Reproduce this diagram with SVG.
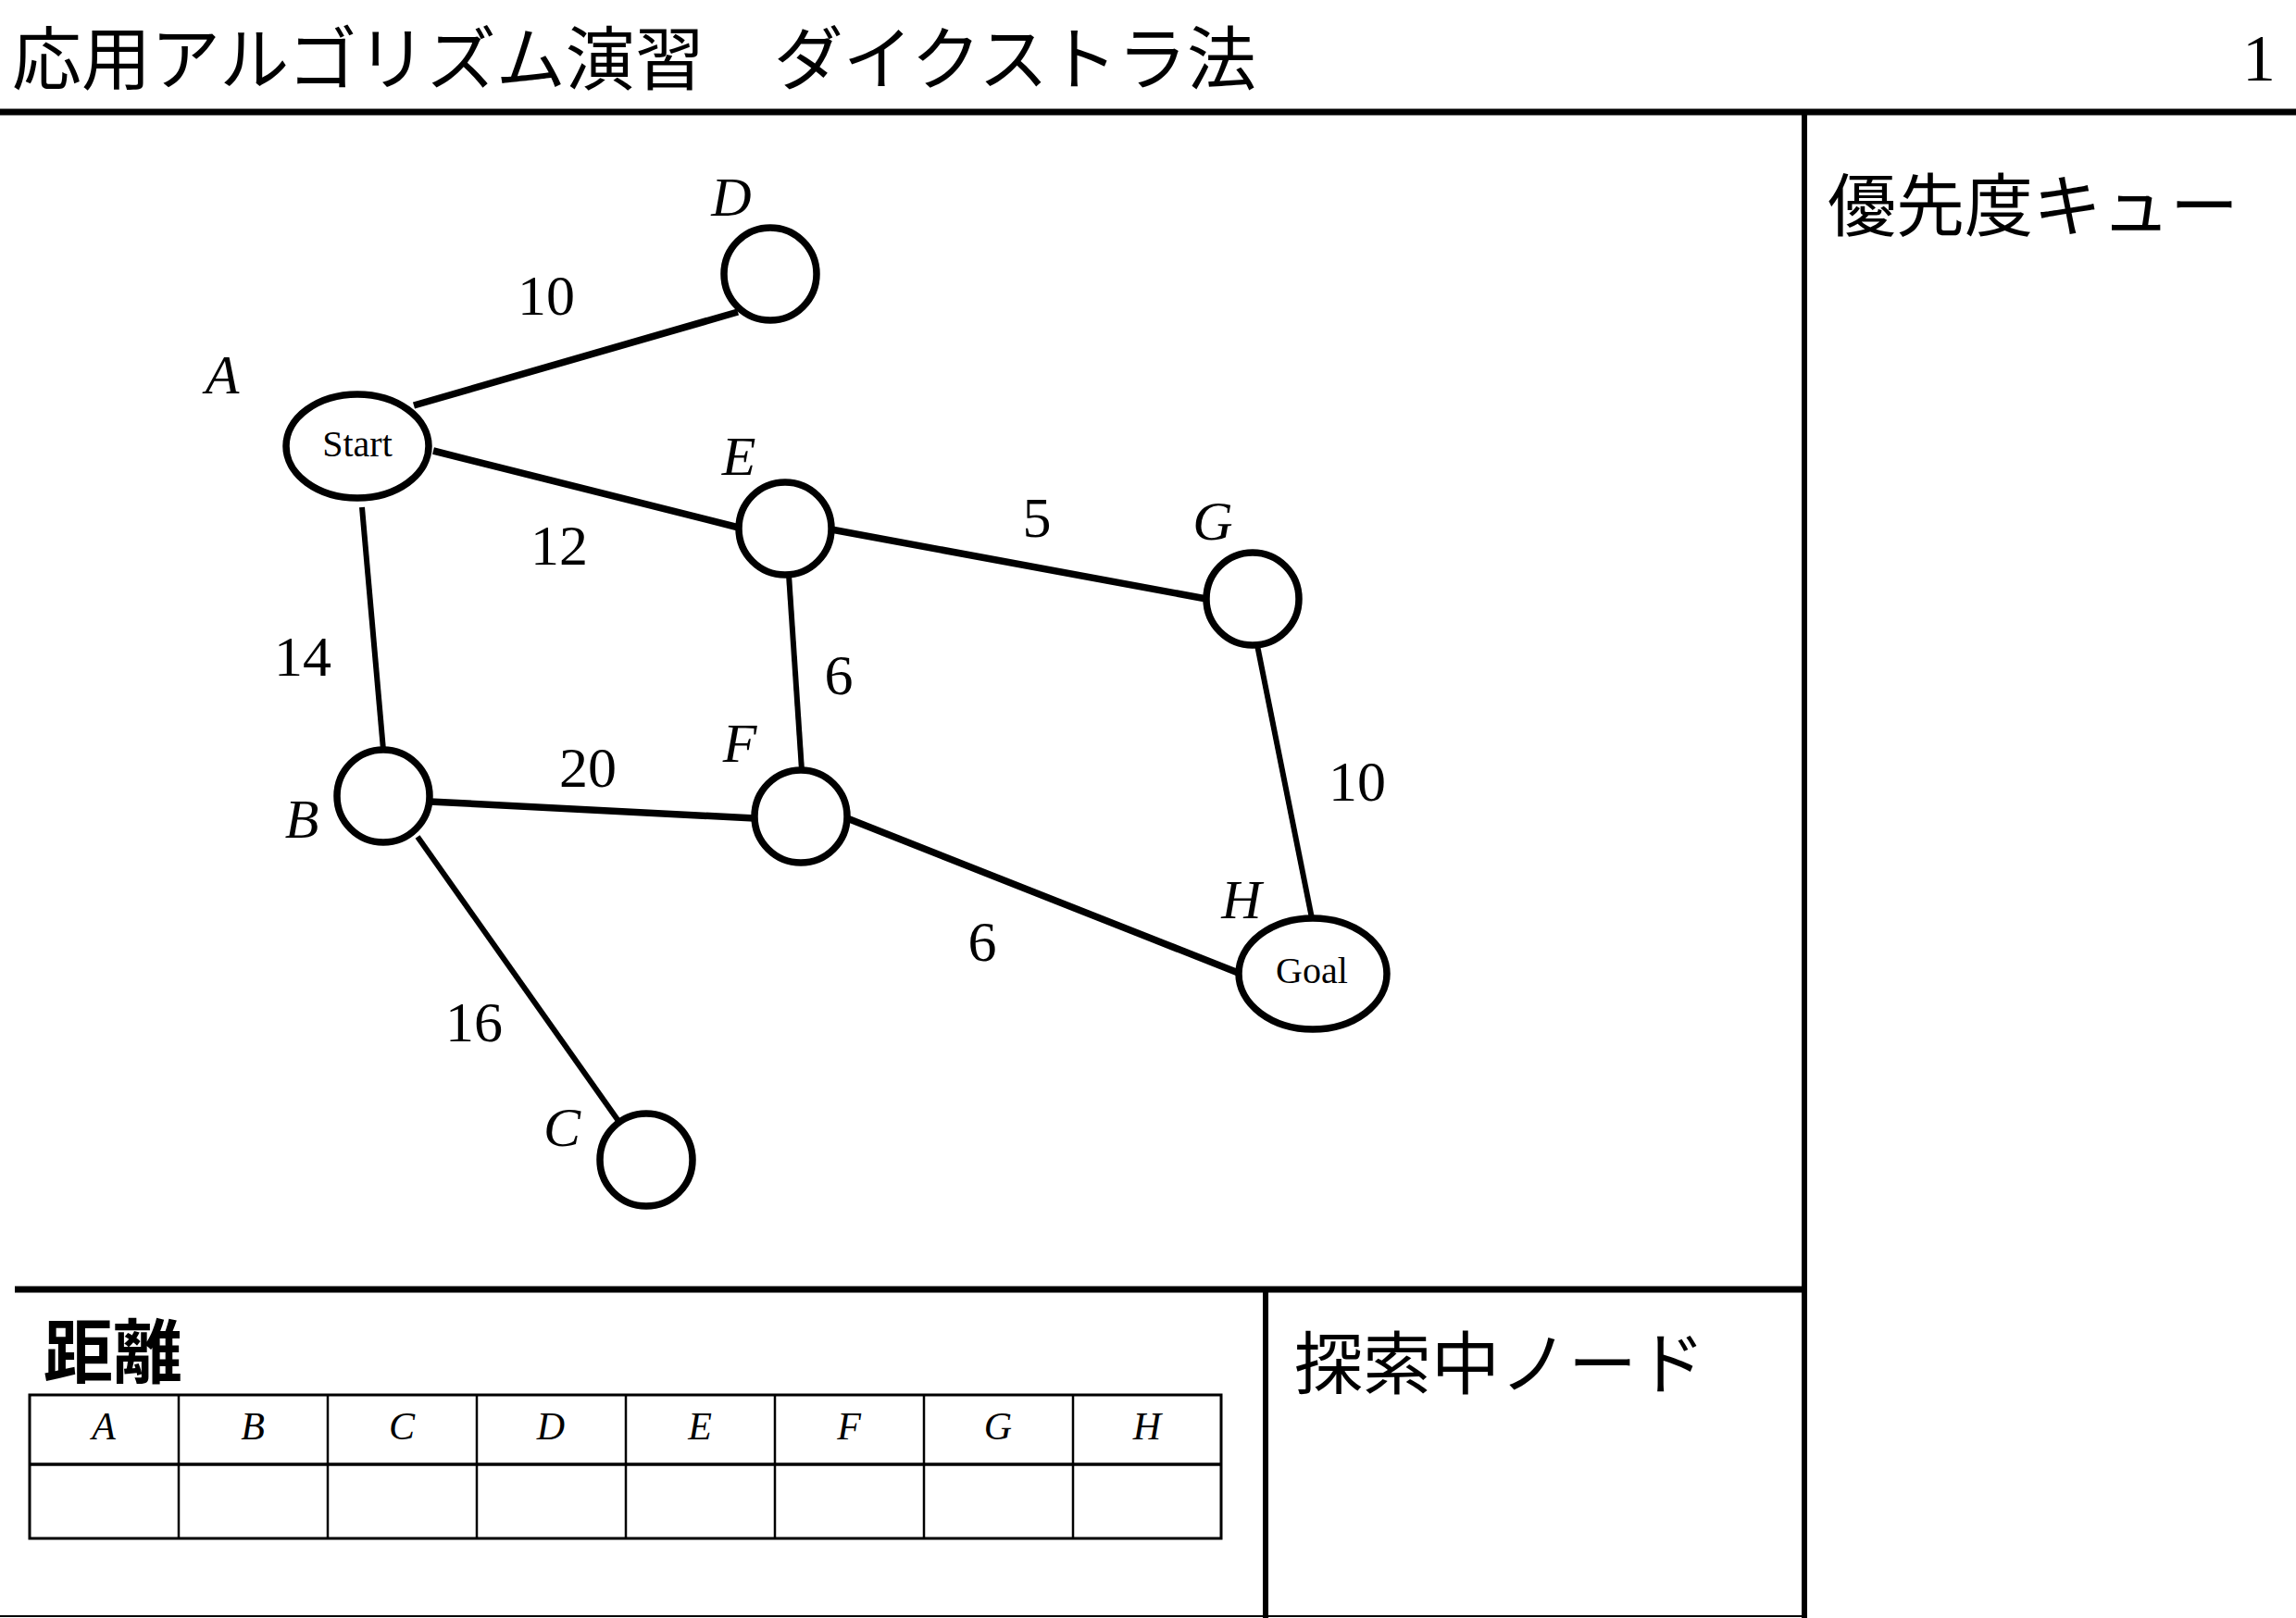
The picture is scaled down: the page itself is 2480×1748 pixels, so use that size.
<svg xmlns="http://www.w3.org/2000/svg" width="2480" height="1748" viewBox="0 0 2480 1748">
<style>
.jp{font-family:"Noto Sans CJK JP","Noto Sans CJK SC",sans-serif;fill:#000}
.num{font-family:"Liberation Serif","Times New Roman",serif;font-size:62px;fill:#000;text-anchor:middle}
.lbl{font-family:"Liberation Serif","Times New Roman",serif;font-style:italic;font-size:60px;fill:#000;text-anchor:middle}
.hdr{font-family:"Liberation Serif","Times New Roman",serif;font-style:italic;font-size:42px;fill:#000;text-anchor:middle}
.inner{font-family:"Liberation Serif","Times New Roman",serif;font-size:40px;fill:#000;text-anchor:middle}
.node{fill:#fff;stroke:#000;stroke-width:7.5}
.edge{stroke:#000;stroke-width:6;fill:none}
.thick{stroke-width:7.5}
.frame{stroke:#000;fill:none}
</style>
<rect x="0" y="0" width="2480" height="1748" fill="#fff"/>
<g id="frame">
<line class="frame" x1="0" y1="121" x2="2480" y2="121" stroke-width="7"/>
<line class="frame" x1="1949" y1="121" x2="1949" y2="1748" stroke-width="6"/>
<line class="frame" x1="16" y1="1393" x2="1949" y2="1393" stroke-width="7"/>
<line class="frame" x1="1367" y1="1393" x2="1367" y2="1748" stroke-width="6"/>
<line class="frame" x1="0" y1="1746" x2="1949" y2="1746" stroke-width="2"/>
</g>
<g id="texts">
<text class="jp" x="13" y="91" font-size="75">応用アルゴリズム演習　ダイクストラ法</text>
<text x="2458" y="87" font-family="Liberation Serif, serif" font-size="72" text-anchor="end">1</text>
<text class="jp" x="1974" y="249" font-size="74">優先度キュー</text>
<text class="jp" x="47" y="1488" font-size="75" font-weight="bold">距離</text>
<text class="jp" x="1398" y="1500" font-size="74">探索中ノード</text>
</g>
<g id="table">
<rect class="frame" x="32" y="1507" width="1287" height="155" stroke-width="3"/>
<line class="frame" x1="32" y1="1582" x2="1319" y2="1582" stroke-width="3.5"/>
<line class="frame" x1="193" y1="1507" x2="193" y2="1662" stroke-width="2.5"/>
<line class="frame" x1="354" y1="1507" x2="354" y2="1662" stroke-width="2.5"/>
<line class="frame" x1="515" y1="1507" x2="515" y2="1662" stroke-width="2.5"/>
<line class="frame" x1="676" y1="1507" x2="676" y2="1662" stroke-width="2.5"/>
<line class="frame" x1="837" y1="1507" x2="837" y2="1662" stroke-width="2.5"/>
<line class="frame" x1="998" y1="1507" x2="998" y2="1662" stroke-width="2.5"/>
<line class="frame" x1="1159" y1="1507" x2="1159" y2="1662" stroke-width="2.5"/>
<text class="hdr" x="112" y="1555">A</text>
<text class="hdr" x="273" y="1555">B</text>
<text class="hdr" x="434" y="1555">C</text>
<text class="hdr" x="595" y="1555">D</text>
<text class="hdr" x="756" y="1555">E</text>
<text class="hdr" x="917" y="1555">F</text>
<text class="hdr" x="1078" y="1555">G</text>
<text class="hdr" x="1239" y="1555">H</text>
</g>
<g id="edges">
<line class="edge thick" x1="447" y1="438" x2="797" y2="337"/>
<line class="edge thick" x1="468" y1="487" x2="798" y2="570"/>
<line class="edge" x1="391" y1="548" x2="414" y2="810"/>
<line class="edge thick" x1="898" y1="572" x2="1303" y2="647"/>
<line class="edge" x1="852" y1="621" x2="866" y2="832"/>
<line class="edge" x1="1358" y1="697" x2="1417" y2="992"/>
<line class="edge thick" x1="464" y1="866" x2="815" y2="884"/>
<line class="edge" x1="451" y1="904" x2="668" y2="1211"/>
<line class="edge thick" x1="915" y1="884" x2="1340" y2="1052"/>
<text class="num" x="590" y="340">10</text>
<text class="num" x="604" y="610">12</text>
<text class="num" x="327" y="730">14</text>
<text class="num" x="1120" y="580">5</text>
<text class="num" x="906" y="750">6</text>
<text class="num" x="635" y="850">20</text>
<text class="num" x="512" y="1125">16</text>
<text class="num" x="1466" y="865">10</text>
<text class="num" x="1061" y="1038">6</text>
</g>
<g id="node-A">
<ellipse class="node" cx="386" cy="482" rx="77" ry="56"/>
<text class="inner" x="386" y="493">Start</text>
<text class="lbl" x="240" y="425">A</text>
</g>
<g id="node-B">
<circle class="node" cx="414" cy="860" r="50"/>
<text class="lbl" x="326" y="905">B</text>
</g>
<g id="node-C">
<circle class="node" cx="698" cy="1253" r="50"/>
<text class="lbl" x="607" y="1238">C</text>
</g>
<g id="node-D">
<circle class="node" cx="832" cy="296" r="50"/>
<text class="lbl" x="790" y="233">D</text>
</g>
<g id="node-E">
<circle class="node" cx="848" cy="571" r="50"/>
<text class="lbl" x="798" y="513">E</text>
</g>
<g id="node-F">
<circle class="node" cx="865" cy="882" r="50"/>
<text class="lbl" x="799" y="823">F</text>
</g>
<g id="node-G">
<circle class="node" cx="1353" cy="647" r="50"/>
<text class="lbl" x="1310" y="583">G</text>
</g>
<g id="node-H">
<ellipse class="node" cx="1418" cy="1052" rx="80" ry="60"/>
<text class="inner" x="1417" y="1062">Goal</text>
<text class="lbl" x="1341" y="992">H</text>
</g>
</svg>
